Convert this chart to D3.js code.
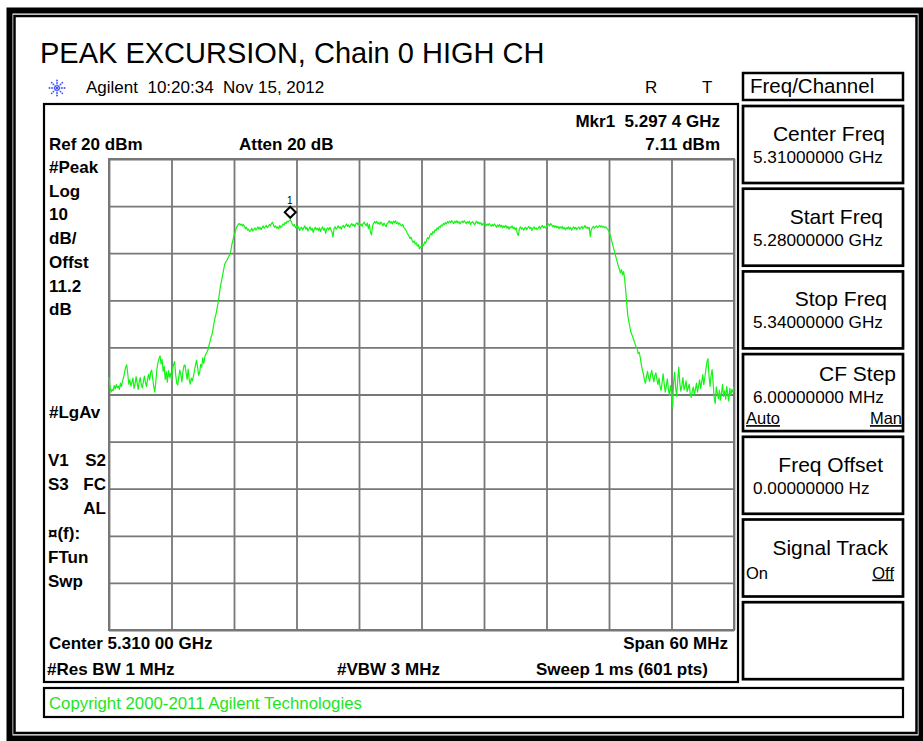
<!DOCTYPE html>
<html>
<head>
<meta charset="utf-8">
<script src="https://cdn.jsdelivr.net/npm/d3@7"></script>
<style>
  html, body { margin: 0; padding: 0; background: #fff; }
  svg { display: block; }
  text { font-family: "Liberation Sans", Arial, Helvetica, sans-serif; }
</style>
</head>
<body>
<svg id="chart" width="923" height="741"></svg>
<script>
// ---- Instrument settings ----
const freqStartGHz = 5.28;
const freqStopGHz = 5.34;
const refLevelDbm = 20;
const dbPerDiv = 10;
const numDivs = 10;
const sweepPoints = 601;

// ---- Peak-hold trace, dBm, one value per sweep point (601 pts) ----
const traceDbm = [
  -26.3,-28.4,-29.5,-28.9,-29.2,-28.1,-28.8,-27.9,-28.6,-28.2,
  -28.9,-27.6,-28.3,-27.1,-26.4,-25.2,-24.3,-23.7,-25.6,-27.8,
  -26.9,-28.2,-27.4,-26.5,-28.7,-27.8,-26.2,-27.6,-28.9,-27.3,
  -26.4,-27.9,-28.6,-27.2,-26.1,-27.5,-28.3,-26.8,-25.7,-26.9,
  -25.3,-24.8,-26.7,-28.4,-29.5,-27.1,-24.6,-23.2,-22.4,-21.8,
  -23.5,-22.6,-25.1,-24.0,-26.8,-25.2,-27.4,-24.9,-26.3,-25.5,
  -26.9,-24.7,-23.6,-23.0,-25.8,-27.6,-28.0,-26.2,-24.8,-25.9,
  -27.3,-25.1,-23.9,-23.7,-25.4,-26.8,-24.6,-26.9,-27.8,-26.5,
  -27.1,-26.2,-25.0,-23.8,-22.7,-24.1,-25.9,-25.4,-23.6,-24.2,
  -22.2,-23.4,-22.0,-21.4,-21.0,-20.5,-19.6,-18.7,-17.8,-17.2,
  -15.9,-14.6,-13.5,-12.6,-11.4,-10.1,-8.6,-7.0,-5.9,-4.7,
  -3.6,-2.4,-1.9,-1.6,-1.1,-0.7,-0.3,0.6,1.9,2.8,
  3.7,4.4,5.2,5.7,6.1,6.3,6.0,6.2,5.8,6.1,
  5.7,5.2,5.5,4.9,5.1,4.6,4.8,5.3,4.7,5.0,
  5.4,4.9,5.2,5.6,5.1,5.5,5.0,5.4,5.8,5.3,
  5.6,5.9,5.4,5.7,6.1,5.8,6.3,6.6,5.9,5.5,
  5.8,5.3,5.6,5.2,5.9,5.4,5.7,6.2,6.0,6.5,
  6.3,6.8,6.6,6.9,7.11,6.7,6.2,5.8,6.1,5.4,
  5.7,5.2,5.6,4.8,5.3,5.5,4.9,5.4,5.8,5.1,
  5.5,4.7,5.2,5.6,4.9,5.3,4.4,5.1,5.5,5.0,
  5.3,4.8,5.4,4.6,5.2,5.6,4.9,5.3,4.2,5.1,
  5.4,4.9,5.5,5.0,4.5,3.4,5.2,5.6,5.1,5.4,
  5.8,5.3,5.6,5.1,5.7,5.9,5.4,5.8,6.2,5.7,
  6.0,5.5,5.9,6.3,5.8,6.1,5.6,6.2,6.5,6.0,
  6.4,5.9,6.2,5.7,6.3,6.6,6.1,5.8,6.4,5.2,
  6.1,4.4,3.9,5.8,6.3,6.7,6.4,6.8,6.2,6.5,
  6.1,6.6,6.3,5.8,6.4,6.0,5.6,6.3,6.5,6.9,
  6.4,6.7,6.2,6.8,6.5,6.9,6.3,6.6,6.1,6.4,
  6.0,5.8,6.1,5.5,5.2,4.9,4.4,4.0,3.6,3.1,
  3.4,2.7,2.3,2.6,1.9,2.2,1.5,1.8,0.9,1.4,
  1.2,1.9,1.6,2.4,2.1,2.9,3.3,3.0,3.8,4.2,
  3.9,4.6,4.3,5.0,4.8,5.4,5.1,5.7,5.5,6.0,
  5.8,6.3,6.1,6.5,6.2,6.7,6.4,6.8,6.5,6.9,
  6.6,6.3,6.8,6.5,6.9,6.4,6.7,6.2,6.6,6.8,
  6.5,6.9,6.6,6.3,6.7,6.4,6.8,6.1,6.5,6.7,
  6.4,6.0,6.5,6.8,6.3,6.6,6.2,6.5,5.9,6.3,
  6.1,6.4,5.8,6.2,5.9,6.3,6.0,5.7,6.1,5.8,
  6.2,5.9,5.5,6.0,5.7,6.1,5.6,5.9,5.4,5.8,
  5.5,5.9,5.3,5.7,5.1,5.6,5.4,5.8,5.2,5.5,
  5.0,5.4,4.1,3.8,5.2,5.6,5.1,5.4,4.9,5.3,
  5.5,5.0,5.4,5.7,5.2,5.5,4.8,5.3,5.6,5.1,
  5.4,5.0,5.3,5.7,5.2,5.6,5.9,5.4,5.7,5.3,
  5.6,5.9,6.2,5.8,6.3,6.0,5.6,5.9,5.5,5.8,
  5.4,5.7,5.2,5.6,5.3,5.7,5.1,5.5,5.0,5.4,
  5.2,5.6,5.1,5.5,4.9,5.3,5.6,5.2,5.5,5.0,
  5.3,5.6,5.1,5.4,5.7,5.2,5.5,5.9,5.3,5.6,
  5.2,5.5,3.5,5.0,5.4,5.7,5.3,5.6,5.8,5.4,
  5.7,5.9,5.6,5.8,5.5,5.7,5.4,5.6,5.3,5.0,
  4.6,4.0,3.1,2.3,1.4,0.6,-0.3,-1.1,-1.9,-2.8,
  -3.4,-4.2,-3.5,-4.6,-3.9,-5.4,-7.8,-10.6,-13.2,-14.5,
  -15.6,-16.8,-17.3,-17.9,-18.6,-19.2,-19.9,-20.2,-21.3,-21.0,
  -22.1,-23.6,-24.8,-25.6,-26.9,-27.6,-26.2,-25.1,-26.4,-27.2,
  -25.8,-24.9,-26.1,-27.3,-26.0,-25.4,-26.8,-27.9,-26.5,-28.3,
  -29.1,-27.4,-25.6,-27.8,-29.5,-28.2,-26.7,-28.9,-30.2,-28.1,
  -29.6,-32.8,-27.5,-25.3,-28.6,-30.4,-26.9,-24.2,-27.7,-29.3,
  -28.1,-26.4,-29.0,-28.3,-27.1,-29.4,-28.6,-27.8,-29.9,-30.6,
  -29.2,-28.4,-30.1,-28.8,-27.6,-29.5,-28.2,-26.9,-28.7,-27.3,
  -25.8,-27.9,-26.4,-24.6,-23.1,-22.4,-25.9,-28.3,-26.0,-24.7,
  -27.6,-30.8,-31.9,-28.4,-29.7,-30.9,-29.1,-31.2,-29.6,-27.9,
  -30.4,-29.2,-31.0,-28.3,-29.8,-31.4,-28.7,-30.2,-28.9,-29.5,
  -28.4
];

// ---- Marker 1 ----
const markerFreqGHz = 5.2974;
const markerDbm = 7.11;

// ---- Annotation text ----
const titleText = "PEAK EXCURSION, Chain 0 HIGH CH";
const leftStatusUpper = ["#Peak", "Log", String(dbPerDiv), "dB/", "Offst", "11.2", "dB"];
const leftStatusLower = [["V1", "S2"], ["S3", "FC"], ["", "AL"], ["\u00a4(f):", ""], ["FTun", ""], ["Swp", ""]];
const softKeyTitle = "Freq/Channel";
const softKeys = [
  { label: "Center Freq",  value: "5.31000000 GHz" },
  { label: "Start Freq",   value: "5.28000000 GHz" },
  { label: "Stop Freq",    value: "5.34000000 GHz" },
  { label: "CF Step",      value: "6.00000000 MHz", left: "Auto", right: "Man" },
  { label: "Freq Offset",  value: "0.00000000  Hz" },
  { label: "Signal Track", left: "On", right: "Off" },
  { label: "" }
];
// right edge of each soft-key caption
const softKeyLabelRight = [885, 883, 887, 896, 883, 888, 0];

// ---- Drawing ----
const svg = d3.select("#chart");
const W = 923, H = 741;

svg.append("rect").attr("width", W).attr("height", H).attr("fill", "#fff");

// Double black frame round the whole sheet
svg.append("rect").attr("x", 9.5).attr("y", 10.5).attr("width", 912).attr("height", 728)
  .attr("fill", "none").attr("stroke", "#000").attr("stroke-width", 6);
svg.append("rect").attr("x", 14.5).attr("y", 16).attr("width", 902).attr("height", 717)
  .attr("fill", "none").attr("stroke", "#000").attr("stroke-width", 2.5);

// Title
svg.append("text").attr("x", 40).attr("y", 63).attr("font-size", 29).attr("fill", "#000")
  .text(titleText);

// Agilent starburst logo
const logo = svg.append("g").attr("transform", "translate(57,88)").attr("fill", "#3a4dff");
d3.range(8).forEach(k => {
  const a = k * Math.PI / 4;
  [2.5, 5, 7.5].forEach(r => {
    logo.append("circle").attr("cx", r * Math.cos(a)).attr("cy", r * Math.sin(a)).attr("r", 0.9);
  });
});
logo.append("circle").attr("r", 1.3);

svg.append("text").attr("x", 86).attr("y", 93).attr("font-size", 17)
  .text("Agilent\u00a0\u00a010:20:34\u00a0\u00a0Nov 15, 2012");
svg.append("text").attr("x", 645).attr("y", 93).attr("font-size", 17).text("R");
svg.append("text").attr("x", 702).attr("y", 93).attr("font-size", 17).text("T");

// Main display box
svg.append("rect").attr("x", 44).attr("y", 104).attr("width", 694).attr("height", 578)
  .attr("fill", "none").attr("stroke", "#000").attr("stroke-width", 2.2);

// Copyright bar
svg.append("rect").attr("x", 44).attr("y", 688).attr("width", 859).attr("height", 29)
  .attr("fill", "none").attr("stroke", "#000").attr("stroke-width", 2.2);
svg.append("text").attr("x", 49).attr("y", 709).attr("font-size", 16.8).attr("fill", "#1ee41e")
  .text("Copyright 2000-2011 Agilent Technologies");

// ---- Graticule ----
const plot = { left: 109, right: 734, top: 159, bottom: 630 };
const x = d3.scaleLinear().domain([freqStartGHz, freqStopGHz]).range([plot.left, plot.right]);
const y = d3.scaleLinear().domain([refLevelDbm - dbPerDiv * numDivs, refLevelDbm]).range([plot.bottom, plot.top]);

const xDivs = d3.range(numDivs + 1).map(i => freqStartGHz + i * (freqStopGHz - freqStartGHz) / numDivs);
const yDivs = d3.range(numDivs + 1).map(i => refLevelDbm - i * dbPerDiv);

const gridColor = "#777";
const gx = svg.append("g").attr("transform", `translate(0,${plot.bottom})`)
  .call(d3.axisBottom(x).tickValues(xDivs).tickSize(plot.bottom - plot.top).tickFormat(""));
gx.select(".domain").remove();
gx.selectAll(".tick line").attr("stroke", gridColor).attr("stroke-width", 1.8)
  .attr("transform", `translate(0,${-(plot.bottom - plot.top)})`);

const gy = svg.append("g").attr("transform", `translate(${plot.left},0)`)
  .call(d3.axisRight(y).tickValues(yDivs).tickSize(plot.right - plot.left).tickFormat(""));
gy.select(".domain").remove();
gy.selectAll(".tick line").attr("stroke", gridColor).attr("stroke-width", 1.8);

svg.append("rect").attr("x", plot.left).attr("y", plot.top)
  .attr("width", plot.right - plot.left).attr("height", plot.bottom - plot.top)
  .attr("fill", "none").attr("stroke", gridColor).attr("stroke-width", 2);

// ---- Trace ----
const freqs = d3.range(sweepPoints).map(i => freqStartGHz + i * (freqStopGHz - freqStartGHz) / (sweepPoints - 1));
const line = d3.line().x((d, i) => x(freqs[i])).y(d => y(d));
svg.append("path").datum(traceDbm).attr("d", line)
  .attr("fill", "none").attr("stroke", "#14f414").attr("stroke-width", 1.2)
  .attr("stroke-linejoin", "round");

// ---- Marker 1 ----
const mx = x(markerFreqGHz), my = y(markerDbm);
svg.append("path")
  .attr("d", `M${mx},${my - 13} l5.5,5.5 l-5.5,5.5 l-5.5,-5.5 z`)
  .attr("fill", "#fff").attr("stroke", "#000").attr("stroke-width", 2);
svg.append("text").attr("x", mx - 0.5).attr("y", my - 16).attr("text-anchor", "middle")
  .attr("font-family", "DejaVu Sans Mono, monospace").attr("font-size", 10).text("1");

// ---- Graticule annotations (bold) ----
const bold = (sel) => sel.attr("font-weight", "bold").attr("font-size", 17).attr("fill", "#000");
const fmtGHz = d3.format(".5f");
const splitGHz = v => { const s = fmtGHz(v); return s.slice(0, 5) + " " + s.slice(5); };
const centerGHz = (freqStartGHz + freqStopGHz) / 2;
const spanMHz = Math.round((freqStopGHz - freqStartGHz) * 1000);

bold(svg.append("text").attr("x", 49).attr("y", 150)).text(`Ref ${refLevelDbm} dBm`);
bold(svg.append("text").attr("x", 239).attr("y", 150)).text("Atten 20 dB");
bold(svg.append("text").attr("x", 720).attr("y", 127).attr("text-anchor", "end"))
  .text(`Mkr1\u00a0\u00a0${d3.format(".4f")(markerFreqGHz).replace(/(\.\d{3})/, "$1 ")} GHz`);
bold(svg.append("text").attr("x", 720).attr("y", 150).attr("text-anchor", "end"))
  .text(`${markerDbm} dBm`);

leftStatusUpper.forEach((t, i) => {
  bold(svg.append("text").attr("x", 49).attr("y", 173 + i * 23.7)).text(t);
});
bold(svg.append("text").attr("x", 49).attr("y", 418)).text("#LgAv");
leftStatusLower.forEach((pair, i) => {
  const yy = 466 + i * 24.2;
  if (pair[0]) bold(svg.append("text").attr("x", 48).attr("y", yy)).text(pair[0]);
  if (pair[1]) bold(svg.append("text").attr("x", 106).attr("y", yy).attr("text-anchor", "end")).text(pair[1]);
});

bold(svg.append("text").attr("x", 49).attr("y", 649)).text(`Center ${splitGHz(centerGHz)} GHz`);
bold(svg.append("text").attr("x", 728).attr("y", 649).attr("text-anchor", "end")).text(`Span ${spanMHz} MHz`);
bold(svg.append("text").attr("x", 47).attr("y", 675)).text("#Res BW 1 MHz");
bold(svg.append("text").attr("x", 337).attr("y", 675)).text("#VBW 3 MHz");
bold(svg.append("text").attr("x", 708).attr("y", 675).attr("text-anchor", "end")).text(`Sweep 1 ms (${sweepPoints} pts)`);

// ---- Soft-key panel ----
const panel = { left: 743, right: 903 };
svg.append("rect").attr("x", panel.left).attr("y", 73).attr("width", panel.right - panel.left).attr("height", 27)
  .attr("fill", "none").attr("stroke", "#000").attr("stroke-width", 2.5);
svg.append("text").attr("x", 750).attr("y", 93).attr("font-size", 20.5).text(softKeyTitle);

softKeys.forEach((k, i) => {
  const top = 106 + i * 82.7;
  svg.append("rect").attr("x", panel.left).attr("y", top).attr("width", panel.right - panel.left).attr("height", 77)
    .attr("fill", "none").attr("stroke", "#000").attr("stroke-width", 2.7);
  const compact = !!(k.value && k.left);
  if (k.label) {
    svg.append("text").attr("x", softKeyLabelRight[i]).attr("y", top + (compact ? 27 : 35)).attr("text-anchor", "end")
      .attr("font-size", 21).text(k.label);
  }
  if (k.value) {
    svg.append("text").attr("x", 753).attr("y", top + (compact ? 49 : 57))
      .attr("font-size", 17.2).text(k.value);
  }
  if (k.left) {
    const yy = top + (compact ? 70 : 59);
    svg.append("text").attr("x", 746).attr("y", yy).attr("font-size", 16.5)
      .attr("text-decoration", compact ? "underline" : null).text(k.left);
    svg.append("text").attr("x", compact ? 902 : 894).attr("y", yy).attr("text-anchor", "end")
      .attr("font-size", 16.5).attr("text-decoration", "underline").text(k.right);
  }
});
</script>
</body>
</html>
